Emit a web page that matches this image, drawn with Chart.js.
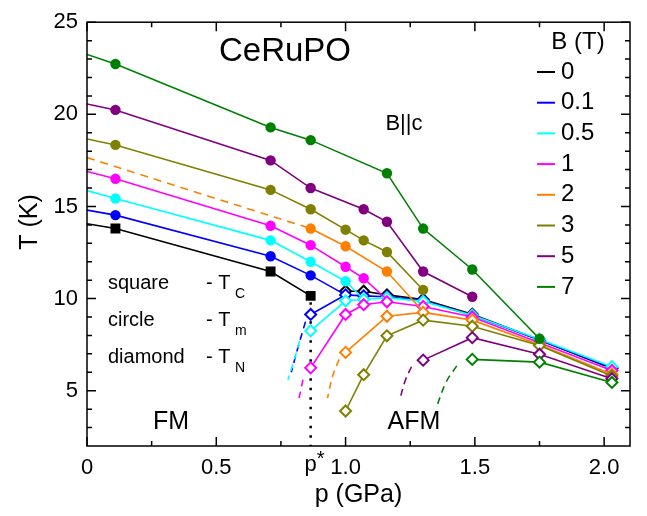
<!DOCTYPE html>
<html>
<head>
<meta charset="utf-8">
<script src="https://cdn.jsdelivr.net/npm/chart.js@4.4.1/dist/chart.umd.min.js"></script>
<style>
  html, body { margin: 0; padding: 0; background: #fff; }
  #wrap { width: 647px; height: 516px; }
</style>
</head>
<body>
<div id="wrap"><canvas id="grafica" width="647" height="516"></canvas></div>
<script>
// Campos (T) y colores de cada serie
const campos = ['0', '0.1', '0.5', '1', '2', '3', '5', '7'];
const colores = ['#000000', '#0000ff', '#00ffff', '#ff00ff', '#ff8000', '#808000', '#800080', '#008000'];

// Tc / Tm (símbolos llenos). p = 0 es la extrapolación de la línea
const pTc = [
  [0, 0.11, 0.71, 0.865],
  [0, 0.11, 0.71, 0.865, 1.0],
  [0, 0.11, 0.71, 0.865, 1.0, 1.07],
  [0, 0.11, 0.71, 0.865, 1.0, 1.07, 1.16],
  [0.865, 1.0, 1.16, 1.30],
  [0, 0.11, 0.71, 0.865, 1.0, 1.07, 1.16, 1.30],
  [0, 0.11, 0.71, 0.865, 1.07, 1.16, 1.30, 1.49],
  [0, 0.11, 0.71, 0.865, 1.16, 1.30, 1.49, 1.75]
];
const tTc = [
  [14.06, 13.8, 11.47, 10.15],
  [14.8, 14.53, 12.3, 11.26, 10.2],
  [15.86, 15.43, 13.16, 12.0, 10.94, 9.95],
  [16.9, 16.5, 13.95, 12.9, 11.73, 11.1, 9.95],
  [13.8, 12.84, 11.47, 9.3],
  [18.66, 18.34, 15.9, 14.85, 13.74, 13.16, 12.53, 10.47],
  [20.56, 20.24, 17.5, 16.0, 14.85, 14.17, 11.47, 10.1],
  [23.25, 22.73, 19.29, 18.6, 16.8, 13.8, 11.58, 7.82]
];
// la línea termina sobre la curva T_N (último punto sin símbolo)
const terminaEnTn = [false, true, true, true, true, false, false, false];

// T_N (rombos abiertos)
const pTn = [
  [1.0, 1.07, 1.16, 1.30, 1.49, 1.75, 2.03],
  [0.865, 1.0, 1.07, 1.16, 1.30, 1.49, 1.75, 2.03],
  [0.865, 1.0, 1.07, 1.16, 1.30, 1.49, 1.75, 2.03],
  [0.865, 1.0, 1.07, 1.16, 1.30, 1.49, 1.75, 2.03],
  [1.0, 1.16, 1.30, 1.49, 1.75, 2.03],
  [1.0, 1.07, 1.16, 1.30, 1.49, 1.75, 2.03],
  [1.30, 1.49, 1.75, 2.03],
  [1.49, 1.75, 2.03]
];
const tTn = [
  [10.4, 10.4, 10.2, 9.95, 9.15, 7.75, 6.2],
  [9.14, 10.2, 10.15, 10.1, 9.9, 9.1, 7.75, 6.25],
  [8.25, 9.88, 9.95, 10.05, 9.85, 9.1, 7.8, 6.3],
  [6.24, 9.14, 9.67, 9.83, 9.57, 9.0, 7.6, 6.1],
  [7.08, 9.04, 9.25, 8.83, 7.5, 5.9],
  [3.9, 5.87, 7.98, 8.83, 8.5, 7.45, 5.8],
  [6.66, 7.88, 6.98, 5.65],
  [6.7, 6.55, 5.45]
];

// extrapolaciones a baja T (discontinuas)
const pExt = [null, [0.845, 0.815, 0.79], [0.822, 0.80, 0.777], [0.835, 0.828, 0.82],
              [0.975, 0.95, 0.93], null, [1.255, 1.232, 1.21], [1.43, 1.39, 1.35]];
const tExt = [null, [8.75, 7.3, 6.0], [7.7, 6.6, 5.6], [5.6, 5.1, 4.6],
              [6.7, 5.8, 4.6], null, [6.3, 5.6, 4.55], [6.35, 5.5, 4.05]];

// extrapolación de Tm (2 T) hacia p = 0
const pExt2T = [0, 0.865];
const tExt2T = [17.65, 13.8];

// p* (línea punteada)
const pStar = 0.865;
const tStar = [9.8, 2];

// ejes
const xTicks = [0, 0.5, 1.0, 1.5, 2.0];
const xMinor = [0.25, 0.75, 1.25, 1.75];
const yTicks = [5, 10, 15, 20, 25];
const yMinor = [3, 4, 6, 7, 8, 9, 11, 12, 13, 14, 16, 17, 18, 19, 21, 22, 23, 24];

const FUENTE = "'Liberation Sans', Arial, sans-serif";

document.addEventListener('DOMContentLoaded', () => {
  try {
    const datasets = [];
    campos.forEach((b, i) => {
      const c = colores[i];
      const orden = (8 - i) * 4;
      const n = pTc[i].length;
      datasets.push({
        data: pTc[i].map((p, k) => ({ x: p, y: tTc[i][k] })),
        showLine: true,
        borderColor: c,
        backgroundColor: c,
        borderWidth: 1.6,
        pointStyle: i === 0 ? 'rect' : 'circle',
        pointRadius: pTc[i].map((p, k) => (p === 0 || (terminaEnTn[i] && k === n - 1)) ? 0 : (i === 0 ? 7 : 5.2)),
        pointBorderWidth: 0,
        tension: 0,
        order: orden
      });
      datasets.push({
        data: pTn[i].map((p, k) => ({ x: p, y: tTn[i][k] })),
        showLine: true,
        borderColor: c,
        backgroundColor: c,
        borderWidth: 1.6,
        pointStyle: 'rectRot',
        pointRadius: 5.5,
        pointBackgroundColor: '#ffffff',
        pointBorderColor: c,
        pointBorderWidth: 2,
        tension: 0,
        order: orden - 1
      });
      if (pExt[i]) {
        datasets.push({
          data: pExt[i].map((p, k) => ({ x: p, y: tExt[i][k] })),
          showLine: true,
          borderColor: c,
          borderWidth: 1.6,
          borderDash: [7, 5],
          pointRadius: 0,
          tension: 0.4,
          order: orden - 2
        });
      }
    });
    datasets.push({
      data: pExt2T.map((p, k) => ({ x: p, y: tExt2T[k] })),
      showLine: true,
      borderColor: colores[4],
      borderWidth: 1.6,
      borderDash: [8, 6],
      pointRadius: 0,
      order: 15
    });
    datasets.push({
      data: tStar.map(t => ({ x: pStar, y: t })),
      showLine: true,
      borderColor: '#000000',
      borderWidth: 2.5,
      borderDash: [2.5, 7],
      pointRadius: 0,
      order: 40
    });

    // textos, marco y marcas hacia dentro
    const extras = {
      id: 'extras',
      afterDraw(chart) {
        const ctx = chart.ctx;
        const a = chart.chartArea;
        const sx = chart.scales.x, sy = chart.scales.y;
        ctx.save();
        ctx.strokeStyle = '#000';
        ctx.lineWidth = 1.5;
        ctx.strokeRect(a.left, a.top, a.right - a.left, a.bottom - a.top);
        const marca = (v, eje, largo) => {
          ctx.beginPath();
          if (eje === 'x') {
            const px = sx.getPixelForValue(v);
            ctx.moveTo(px, a.bottom); ctx.lineTo(px, a.bottom - largo);
            ctx.moveTo(px, a.top); ctx.lineTo(px, a.top + largo);
          } else {
            const py = sy.getPixelForValue(v);
            ctx.moveTo(a.left, py); ctx.lineTo(a.left + largo, py);
            ctx.moveTo(a.right, py); ctx.lineTo(a.right - largo, py);
          }
          ctx.stroke();
        };
        xTicks.forEach(v => marca(v, 'x', 9));
        xMinor.forEach(v => marca(v, 'x', 5));
        yTicks.forEach(v => marca(v, 'y', 9));
        yMinor.forEach(v => marca(v, 'y', 5));

        ctx.fillStyle = '#000';
        const texto = (s, x, y, size, align) => {
          ctx.font = size + 'px ' + FUENTE;
          ctx.textAlign = align || 'left';
          ctx.textBaseline = 'middle';
          ctx.fillText(s, x, y);
        };
        texto('CeRuPO', 285, 52, 33, 'center');
        texto('B||c', 404, 124, 22, 'center');
        texto('B (T)', 578, 42, 24, 'center');
        campos.forEach((b, i) => {
          const y = 72 + i * 30.7;
          ctx.strokeStyle = colores[i];
          ctx.lineWidth = 2;
          ctx.beginPath();
          ctx.moveTo(537, y); ctx.lineTo(555, y);
          ctx.stroke();
          texto(b, 561, y, 24, 'left');
        });
        const filas = [['square', 'C', 283], ['circle', 'm', 320], ['diamond', 'N', 357]];
        filas.forEach(f => {
          texto(f[0], 108, f[2], 20, 'left');
          texto('- T', 206, f[2], 20, 'left');
          texto(f[1], 235, f[2] + 11, 14, 'left');
        });
        texto('FM', 171, 422, 25, 'center');
        texto('AFM', 414, 422, 25, 'center');
        // p* bajo el eje
        const xs = sx.getPixelForValue(pStar);
        texto('p', xs, 465, 22, 'center');
        texto('*', xs + 10, 459, 20, 'center');
        // títulos de los ejes
        texto('p (GPa)', (a.left + a.right) / 2, 495, 25, 'center');
        ctx.save();
        ctx.translate(30, 222);
        ctx.rotate(-Math.PI / 2);
        texto('T (K)', 0, 0, 25, 'center');
        ctx.restore();
        ctx.restore();
      }
    };

    new Chart(document.getElementById('grafica').getContext('2d'), {
      type: 'scatter',
      data: { datasets },
      options: {
        responsive: false,
        animation: false,
        layout: { padding: { top: 11, right: 17, left: 0, bottom: 0 } },
        plugins: { legend: { display: false }, tooltip: { enabled: false } },
        scales: {
          x: {
            type: 'linear', min: 0, max: 2.1,
            grid: { display: false, drawTicks: false },
            border: { display: false },
            afterBuildTicks: s => { s.ticks = xTicks.map(v => ({ value: v })); },
            afterFit: s => { s.height = 70; },
            ticks: {
              color: '#000', padding: 9,
              font: { size: 22, family: FUENTE },
              callback: v => v === 0 ? '0' : v.toFixed(1)
            }
          },
          y: {
            type: 'linear', min: 2, max: 25,
            grid: { display: false, drawTicks: false },
            border: { display: false },
            afterBuildTicks: s => { s.ticks = yTicks.map(v => ({ value: v })); },
            afterFit: s => { s.width = 87; },
            ticks: {
              color: '#000', padding: 9,
              font: { size: 22, family: FUENTE }
            }
          }
        }
      },
      plugins: [extras]
    });
  } catch (e) {
    console.error('Error al crear la gráfica:', e);
  }
});
</script>
</body>
</html>
